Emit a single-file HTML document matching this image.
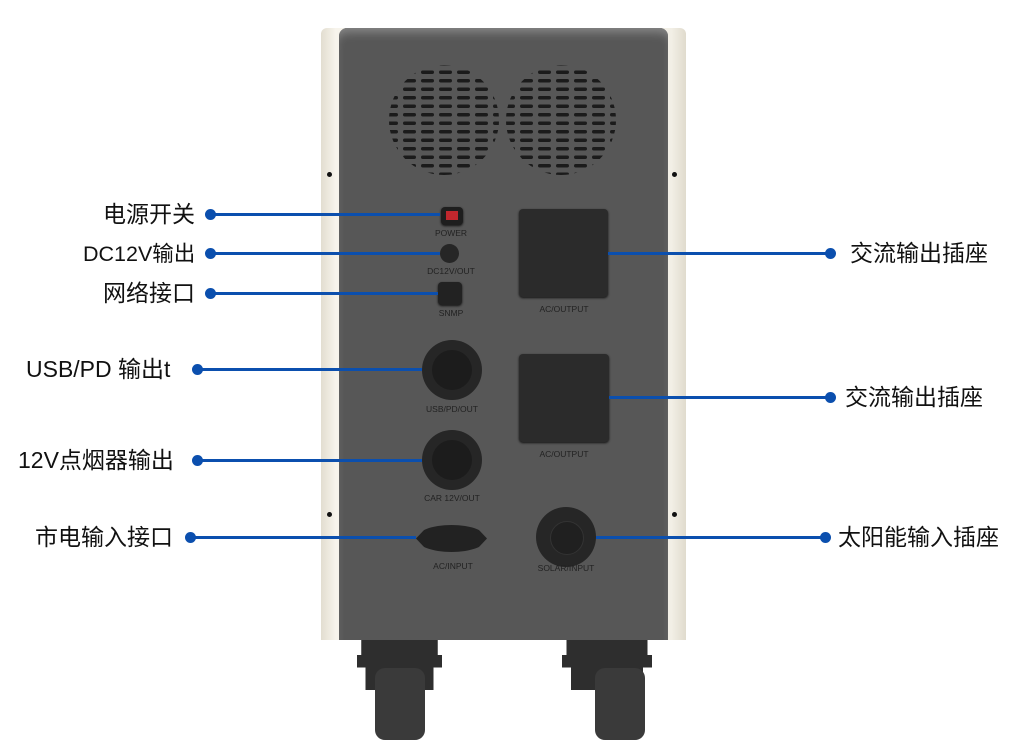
<!DOCTYPE html>
<html><head><meta charset="utf-8"><style>
body{margin:0;width:1024px;height:749px;background:#fff;position:relative;overflow:hidden;font-family:"Liberation Sans","Noto Sans CJK SC",sans-serif}
.a{position:absolute}
.lab{position:absolute;font-size:23px;color:#111;line-height:26px;white-space:nowrap}
.ln{position:absolute;height:3px;background:#0b4fae}
.dot{position:absolute;width:11px;height:11px;border-radius:50%;background:#0b4fae}
.t{position:absolute;font-size:8.5px;color:#222;white-space:nowrap;transform:translateX(-50%)}
.box{position:absolute;background:#2b2b2b;border-radius:4px;box-shadow:0 1px 2px #111}
.circ{position:absolute;border-radius:50%;background:#262626}
.scr{position:absolute;width:5px;height:5px;border-radius:50%;background:#111}
</style></head><body>
<div class="a" style="left:321px;top:28px;width:365px;height:612px;background:linear-gradient(90deg,#e2ddd0,#f7f4ec 4%,#f2efe6 96%,#e0dbcd);border-radius:6px 6px 0 0"></div>
<div class="a" style="left:339px;top:28px;width:329px;height:612px;background:#575757;border-radius:8px 8px 0 0;box-shadow:inset 0 8px 10px -4px #8a8a8a"></div>
<div class="scr" style="left:327px;top:172px"></div><div class="scr" style="left:672px;top:172px"></div>
<div class="scr" style="left:327px;top:512px"></div><div class="scr" style="left:672px;top:512px"></div>
<svg class="a" style="left:380px;top:60px" width="240" height="120">
<defs><pattern id="p" width="18" height="8.5" patternUnits="userSpaceOnUse" x="3"><rect x="2" y="2" width="13" height="3.5" rx="1.7" fill="#1b1b1b"/></pattern>
<pattern id="p2" width="18" height="8.5" patternUnits="userSpaceOnUse" x="12"><rect x="2" y="2" width="13" height="3.5" rx="1.7" fill="#1b1b1b"/></pattern></defs>
<circle cx="64" cy="60" r="55" fill="url(#p)"/>
<circle cx="181" cy="60" r="55" fill="url(#p2)"/>
</svg>
<div class="box" style="left:441px;top:207px;width:22px;height:18px;background:#1e1e1e"></div>
<div class="a" style="left:446px;top:211px;width:12px;height:9px;background:#c0272d"></div>
<div class="t" style="left:451px;top:228px">POWER</div>
<div class="circ" style="left:440px;top:244px;width:19px;height:19px"></div>
<div class="t" style="left:451px;top:266px">DC12V/OUT</div>
<div class="box" style="left:438px;top:282px;width:24px;height:23px;background:#222"></div>
<div class="t" style="left:451px;top:308px">SNMP</div>
<div class="box" style="left:519px;top:209px;width:89px;height:88px"></div>
<div class="t" style="left:564px;top:304px">AC/OUTPUT</div>
<div class="box" style="left:519px;top:354px;width:90px;height:88px"></div>
<div class="t" style="left:564px;top:449px">AC/OUTPUT</div>
<div class="circ" style="left:422px;top:340px;width:60px;height:60px"></div>
<div class="circ" style="left:432px;top:350px;width:40px;height:40px;background:#1c1c1c"></div>
<div class="t" style="left:452px;top:404px">USB/PD/OUT</div>
<div class="circ" style="left:422px;top:430px;width:60px;height:60px"></div>
<div class="circ" style="left:432px;top:440px;width:40px;height:40px;background:#1c1c1c"></div>
<div class="t" style="left:452px;top:493px">CAR 12V/OUT</div>
<div class="a" style="left:416px;top:525px;width:71px;height:27px;background:#222;border-radius:50%/50%;clip-path:polygon(0 50%,18% 0,82% 0,100% 50%,82% 100%,18% 100%)"></div>
<div class="t" style="left:453px;top:561px">AC/INPUT</div>
<div class="circ" style="left:536px;top:507px;width:60px;height:60px"></div>
<div class="circ" style="left:550px;top:521px;width:32px;height:32px;background:#202020;border:1px solid #333"></div>
<div class="t" style="left:566px;top:563px">SOLAR/INPUT</div>
<div class="a" style="left:357px;top:640px;width:85px;height:50px;background:#2e2e2e;clip-path:polygon(5% 0,95% 0,95% 30%,100% 30%,100% 55%,90% 55%,90% 100%,10% 100%,10% 55%,0 55%,0 30%,5% 30%)"></div>
<div class="a" style="left:375px;top:668px;width:50px;height:72px;background:#3a3a3a;border-radius:10px"></div>
<div class="a" style="left:562px;top:640px;width:90px;height:50px;background:#2e2e2e;clip-path:polygon(5% 0,95% 0,95% 30%,100% 30%,100% 55%,90% 55%,90% 100%,10% 100%,10% 55%,0 55%,0 30%,5% 30%)"></div>
<div class="a" style="left:595px;top:668px;width:50px;height:72px;background:#3a3a3a;border-radius:10px"></div>
<div class="ln" style="left:210px;top:213px;width:230px"></div><div class="dot" style="left:205px;top:209px"></div>
<div class="ln" style="left:210px;top:252px;width:230px"></div><div class="dot" style="left:205px;top:248px"></div>
<div class="ln" style="left:210px;top:292px;width:228px"></div><div class="dot" style="left:205px;top:288px"></div>
<div class="ln" style="left:197px;top:368px;width:225px"></div><div class="dot" style="left:192px;top:364px"></div>
<div class="ln" style="left:197px;top:459px;width:225px"></div><div class="dot" style="left:192px;top:455px"></div>
<div class="ln" style="left:190px;top:536px;width:226px"></div><div class="dot" style="left:185px;top:532px"></div>
<div class="ln" style="left:608px;top:252px;width:222px"></div><div class="dot" style="left:825px;top:248px"></div>
<div class="ln" style="left:609px;top:396px;width:221px"></div><div class="dot" style="left:825px;top:392px"></div>
<div class="ln" style="left:596px;top:536px;width:229px"></div><div class="dot" style="left:820px;top:532px"></div>
<div class="lab" style="left:103px;top:201px">电源开关</div>
<div class="lab" style="left:83px;top:241px;font-size:21.5px">DC12V输出</div>
<div class="lab" style="left:103px;top:280px">网络接口</div>
<div class="lab" style="left:26px;top:356px">USB/PD 输出t</div>
<div class="lab" style="left:18px;top:447px">12V点烟器输出</div>
<div class="lab" style="left:35px;top:524px">市电输入接口</div>
<div class="lab" style="left:850px;top:240px">交流输出插座</div>
<div class="lab" style="left:845px;top:384px">交流输出插座</div>
<div class="lab" style="left:838px;top:524px">太阳能输入插座</div>
</body></html>
